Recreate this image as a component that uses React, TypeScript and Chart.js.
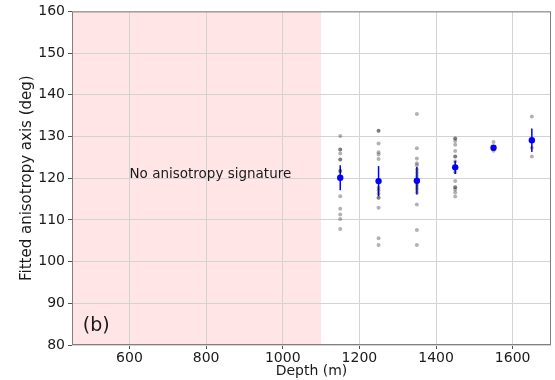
import React, { useEffect, useRef } from "react";
import { Chart, registerables } from "chart.js";

Chart.register(...registerables);

const depths = [1150, 1250, 1350, 1450, 1550, 1650];
const samples1150 = [130.1, 126.9, 126.9, 125.9, 124.5, 124.5, 121.7, 121.7, 115.7, 112.7, 111.3, 110.2, 107.8];
const samples1250 = [131.4, 131.4, 128.3, 126.2, 125.7, 124.6, 117.7, 117.1, 116.3, 115.3, 115.3, 112.9, 105.6, 104.0];
const samples1350 = [135.4, 127.2, 124.7, 123.6, 123.1, 122.1, 121.3, 120.5, 118.5, 117.9, 117.3, 116.6, 113.7, 107.6, 104.0];
const samples1450 = [129.5, 129.5, 128.9, 128.0, 126.5, 125.2, 125.2, 124.0, 121.4, 119.3, 117.8, 117.8, 117.3, 116.6, 115.6];
const samples1550 = [128.7, 126.6];
const samples1650 = [134.8, 127.3, 125.2];
const meanAngles = [120.1, 119.3, 119.4, 122.6, 127.3, 129.1];
const meanErrors = [3.0, 3.6, 3.3, 1.6, 0.6, 2.8];
const xTicks = [600, 800, 1000, 1200, 1400, 1600];
const xRange = [450, 1700];
const yRange = [80, 160];
const shadedRange = [450, 1100];
const shadedLabel = "No anisotropy signature";
const shadedLabelPos = [600, 120];
const panelLabel = "(b)";
const panelLabelPos = [478, 83.3];

const FONT = "'DejaVu Sans', sans-serif";

export default function App() {
  const ref = useRef<HTMLCanvasElement | null>(null);

  useEffect(() => {
    document.body.style.margin = "0";
    const allSamples = [samples1150, samples1250, samples1350, samples1450, samples1550, samples1650];
    const grayPoints: { x: number; y: number }[] = [];
    allSamples.forEach((arr, i) => arr.forEach((v) => grayPoints.push({ x: depths[i], y: v })));
    const meanPoints = depths.map((d, i) => ({ x: d, y: meanAngles[i] }));

    const decor = {
      id: "decor",
      beforeDraw(chart: any) {
        const { ctx, chartArea, scales } = chart;
        const x0 = scales.x.getPixelForValue(shadedRange[0]);
        const x1 = scales.x.getPixelForValue(shadedRange[1]);
        ctx.save();
        ctx.fillStyle = "rgba(255,0,0,0.1)";
        ctx.fillRect(x0, chartArea.top, x1 - x0, chartArea.bottom - chartArea.top);
        ctx.restore();
      },
      beforeDatasetsDraw(chart: any) {
        const { ctx, scales } = chart;
        ctx.save();
        ctx.strokeStyle = "#0000ff";
        ctx.lineWidth = 1.5;
        depths.forEach((d, i) => {
          const px = scales.x.getPixelForValue(d);
          const pTop = scales.y.getPixelForValue(meanAngles[i] + meanErrors[i]);
          const pBot = scales.y.getPixelForValue(meanAngles[i] - meanErrors[i]);
          ctx.beginPath();
          ctx.moveTo(px, pTop);
          ctx.lineTo(px, pBot);
          ctx.stroke();
        });
        ctx.restore();
      },
      afterDraw(chart: any) {
        const { ctx, chartArea, scales } = chart;
        ctx.save();
        ctx.strokeStyle = "#808080";
        ctx.lineWidth = 1;
        ctx.strokeRect(chartArea.left + 0.5, chartArea.top + 0.5, chartArea.right - chartArea.left - 1, chartArea.bottom - chartArea.top - 1);
        ctx.fillStyle = "#1a1a1a";
        ctx.textAlign = "left";
        ctx.textBaseline = "alphabetic";
        ctx.font = `13.5px ${FONT}`;
        ctx.fillText(shadedLabel, scales.x.getPixelForValue(shadedLabelPos[0]), scales.y.getPixelForValue(shadedLabelPos[1]));
        ctx.font = `19px ${FONT}`;
        ctx.fillText(panelLabel, scales.x.getPixelForValue(panelLabelPos[0]), scales.y.getPixelForValue(panelLabelPos[1]));
        ctx.restore();
      },
    };

    const chart = new Chart(ref.current as HTMLCanvasElement, {
      type: "scatter",
      data: {
        datasets: [
          {
            data: grayPoints,
            backgroundColor: "rgba(0,0,0,0.3)",
            borderWidth: 0,
            pointRadius: 2,
          },
          {
            data: meanPoints,
            backgroundColor: "#0000ff",
            borderWidth: 0,
            pointRadius: 3.2,
          },
        ],
      },
      options: {
        responsive: false,
        animation: false,
        layout: { padding: { top: 11, right: 3, left: 0, bottom: 0 } },
        plugins: { legend: { display: false }, tooltip: { enabled: false } },
        scales: {
          x: {
            type: "linear",
            min: xRange[0],
            max: xRange[1],
            afterBuildTicks: (scale: any) => {
              scale.ticks = xTicks.map((v) => ({ value: v }));
            },
            afterFit: (scale: any) => {
              scale.height = 35;
            },
            grid: { color: "#d3d3d3", tickColor: "#555", tickLength: 4 },
            border: { display: false },
            ticks: {
              font: { family: FONT, size: 14 },
              color: "#1a1a1a",
              padding: 1,
              maxRotation: 0,
              callback: (v: any) => String(v),
            },
            title: {
              display: true,
              text: "Depth (m)",
              font: { family: FONT, size: 14 },
              color: "#1a1a1a",
              padding: { top: 0, bottom: 0 },
            },
          },
          y: {
            min: yRange[0],
            max: yRange[1],
            ticks: {
              stepSize: 10,
              font: { family: FONT, size: 14 },
              color: "#1a1a1a",
              padding: 3,
              callback: (v: any) => String(v),
            },
            afterFit: (scale: any) => {
              scale.width = 72;
            },
            grid: { color: "#d3d3d3", tickColor: "#555", tickLength: 4 },
            border: { display: false },
            title: {
              display: true,
              text: "Fitted anisotropy axis (deg)",
              font: { family: FONT, size: 15 },
              color: "#1a1a1a",
              padding: { top: 18.5, bottom: 0 },
            },
          },
        },
      },
      plugins: [decor],
    });
    return () => chart.destroy();
  }, []);

  return (
    <div style={{ width: 555, height: 380 }}>
      <canvas ref={ref} width={555} height={380} />
    </div>
  );
}
